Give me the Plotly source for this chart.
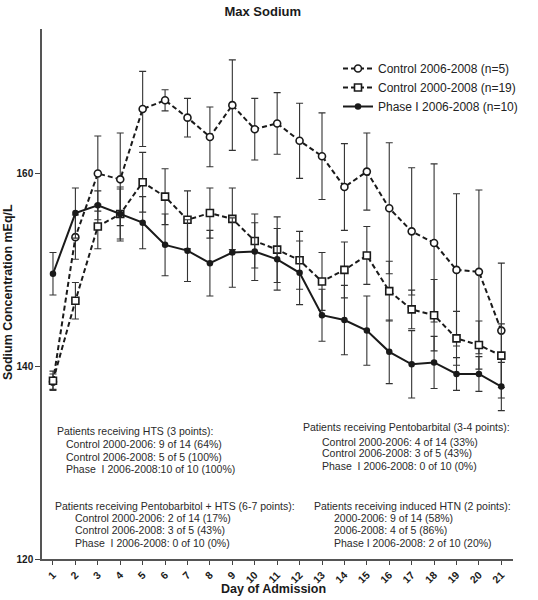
import plotly.graph_objects as go

days = list(range(1, 22))
day_labels = [str(d) for d in days]

ctrl_0608 = [138.4, 153.4, 160.0, 159.4, 166.7, 167.6, 165.8, 163.8, 167.1, 164.6, 165.2,
             163.4, 161.8, 158.6, 160.2, 156.4, 154.0, 152.8, 150.0, 149.8, 143.7]
ctrl_0608_err = [0.8, 2.3, 3.9, 4.8, 3.9, 1.1, 2.0, 3.1, 4.7, 3.2, 3.2,
                 3.9, 4.5, 4.5, 4.0, 6.8, 6.6, 8.2, 7.9, 8.5, 7.0]

ctrl_0008 = [138.5, 146.8, 154.5, 155.8, 159.1, 157.6, 155.2, 155.9, 155.3, 153.0, 152.1,
             151.0, 148.8, 150.0, 151.5, 147.8, 145.9, 145.3, 142.9, 142.2, 141.1]
ctrl_0008_err = [1.0, 1.9, 2.3, 2.8, 3.1, 2.9, 3.0, 2.6, 3.2, 2.8, 3.4,
                 3.0, 3.0, 2.9, 3.0, 3.1, 2.0, 3.7, 2.8, 2.5, 3.3]

phase1 = [149.6, 155.9, 156.7, 155.8, 154.9, 152.6, 152.0, 150.7, 151.8, 151.9, 151.1,
          149.7, 145.3, 144.8, 143.7, 141.5, 140.2, 140.4, 139.2, 139.2, 137.9]
phase1_err = [2.2, 2.6, 1.5, 2.6, 2.7, 3.2, 3.2, 3.4, 3.6, 3.0, 3.2,
              3.3, 2.7, 3.6, 3.6, 3.3, 3.5, 2.7, 1.7, 1.8, 2.5]

series_names = ["Control 2006-2008 (n=5)", "Control 2000-2008 (n=19)", "Phase I 2006-2008 (n=10)"]

y_ticks = [120, 140, 160]

block_hts = ["Patients receiving HTS (3 points):",
             "Control 2000-2006: 9 of 14 (64%)",
             "Control 2006-2008: 5 of 5 (100%)",
             "Phase  I 2006-2008:10 of 10 (100%)"]
block_pento = ["Patients receiving Pentobarbital (3-4 points):",
               "Control 2000-2006: 4 of 14 (33%)",
               "Control 2006-2008: 3 of 5 (43%)",
               "Phase  I 2006-2008: 0 of 10 (0%)"]
block_pento_hts = ["Patients receiving Pentobarbitol + HTS (6-7 points):",
                   "Control 2000-2006: 2 of 14 (17%)",
                   "Control 2006-2008: 3 of 5 (43%)",
                   "Phase  I 2006-2008: 0 of 10 (0%)"]
block_htn = ["Patients receiving induced HTN (2 points):",
             "2000-2006: 9 of 14 (58%)",
             "2006-2008: 4 of 5 (86%)",
             "Phase I 2006-2008: 2 of 10 (20%)"]

INK = "#1a1a1a"
FONT = "Liberation Sans, Arial, sans-serif"

# plot-area pixel geometry
X0, X1, Y0, Y1 = 42, 513, 29, 559


def pxx(x):
    return (x - X0) / (X1 - X0)


def pxy(y):
    return (Y1 - y) / (Y1 - Y0)


def err(vals):
    return dict(type="data", array=vals, visible=True, color="#333", thickness=1.1, width=3.5)


fig = go.Figure()
fig.add_trace(go.Scatter(
    x=days, y=ctrl_0608, name=series_names[0], mode="lines+markers",
    line=dict(color=INK, width=2, dash="5px,3px"),
    marker=dict(symbol="circle", size=7, color="white", line=dict(color=INK, width=1.6)),
    error_y=err(ctrl_0608_err)))
fig.add_trace(go.Scatter(
    x=days, y=ctrl_0008, name=series_names[1], mode="lines+markers",
    line=dict(color=INK, width=2, dash="5px,3px"),
    marker=dict(symbol="square", size=7, color="white", line=dict(color=INK, width=1.6)),
    error_y=err(ctrl_0008_err)))
fig.add_trace(go.Scatter(
    x=days, y=phase1, name=series_names[2], mode="lines+markers",
    line=dict(color=INK, width=2),
    marker=dict(symbol="circle", size=6.5, color=INK),
    error_y=err(phase1_err)))

annotations = []


def add_block(lines, hx, lx, ys, size=10.5):
    for i, (t, y) in enumerate(zip(lines, ys)):
        annotations.append(dict(
            text=t, xref="paper", yref="paper", x=pxx(hx if i == 0 else lx), y=pxy(y),
            xanchor="left", yanchor="middle", showarrow=False,
            font=dict(family=FONT, size=size, color="#2a2a2a")))


add_block(block_hts, 55, 63.5, [431, 444, 456.5, 469])
add_block(block_pento, 300.5, 320, [427, 441.5, 453, 465.5])
add_block(block_pento_hts, 53, 73, [506, 517.5, 530, 542.5])
add_block(block_htn, 312, 332, [506, 517.5, 530, 542.5])

annotations.append(dict(text="<b>Sodium Concentration mEq/L</b>", xref="paper", yref="paper",
                        x=pxx(8), y=pxy(292), textangle=-90, showarrow=False,
                        xanchor="center", yanchor="middle",
                        font=dict(family=FONT, size=12.5, color=INK)))
annotations.append(dict(text="<b>Day of Admission</b>", xref="paper", yref="paper",
                        x=pxx(273), y=pxy(589), showarrow=False,
                        xanchor="center", yanchor="middle",
                        font=dict(family=FONT, size=12.5, color=INK)))

fig.update_layout(
    width=538, height=600,
    margin=dict(l=X0, r=538 - X1, t=Y0, b=600 - Y1, autoexpand=False),
    paper_bgcolor="white", plot_bgcolor="white",
    title=dict(text="<b>Max Sodium</b>", x=pxx(272), xanchor="center", y=1 - 11 / 600,
               yanchor="middle", font=dict(family=FONT, size=13, color=INK)),
    showlegend=True,
    legend=dict(x=pxx(338), y=pxy(54), xanchor="left", yanchor="top",
                font=dict(family=FONT, size=12, color="#222"),
                bgcolor="rgba(0,0,0,0)", tracegroupgap=0, itemwidth=30),
    annotations=annotations,
    xaxis=dict(range=[0.51, 21.52], tickmode="array", tickvals=days, ticktext=day_labels,
               tickangle=-45, ticks="outside", ticklen=4, tickwidth=1.2, tickcolor="#444",
               showline=True, linecolor="#555", linewidth=1.5, showgrid=False, zeroline=False,
               tickfont=dict(family=FONT, size=10.5, color=INK, weight="bold"), automargin=False),
    yaxis=dict(range=[120, 175], tickmode="array", tickvals=y_ticks,
               ticks="outside", ticklen=5, tickwidth=1.2, tickcolor="#444",
               showline=True, linecolor="#555", linewidth=1.5, showgrid=False, zeroline=False,
               tickfont=dict(family=FONT, size=10, color=INK, weight="bold"), automargin=False),
)

fig.write_html("out.html", config={"displayModeBar": False},
               post_script="document.body.style.margin='0';")
